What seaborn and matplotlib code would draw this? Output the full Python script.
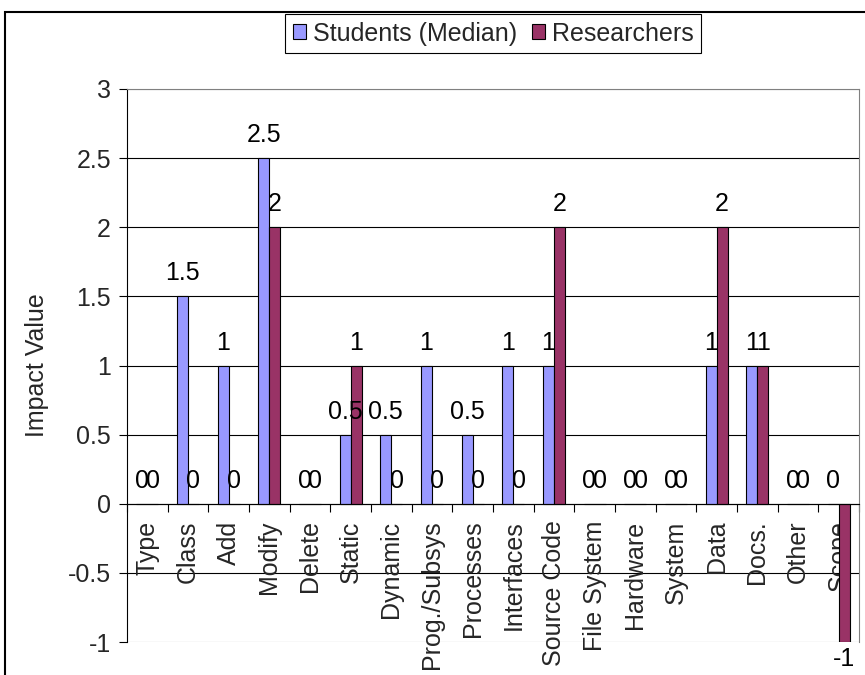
import numpy as np
import pandas as pd
import matplotlib
matplotlib.use("Agg")
import matplotlib.pyplot as plt
import seaborn as sns
from matplotlib.patches import Patch, Rectangle

categories = ["Type", "Class", "Add", "Modify", "Delete", "Static", "Dynamic",
              "Prog./Subsys", "Processes", "Interfaces", "Source Code",
              "File System", "Hardware", "System", "Data", "Docs.", "Other", "Scope"]
students = [0, 1.5, 1, 2.5, 0, 0.5, 0.5, 1, 0.5, 1, 1, 0, 0, 0, 1, 1, 0, 0]
researchers = [0, 0, 0, 2, 0, 1, 0, 0, 0, 0, 2, 0, 0, 0, 2, 1, 0, -1]
series_names = ["Students (Median)", "Researchers"]
series_colors = ["#9999FF", "#993366"]
y_ticks = [-1, -0.5, 0, 0.5, 1, 1.5, 2, 2.5, 3]
y_tick_labels = ["-1", "-0.5", "0", "0.5", "1", "1.5", "2", "2.5", "3"]

df = pd.DataFrame({
    "Category": categories * 2,
    "Series": [series_names[0]] * len(categories) + [series_names[1]] * len(categories),
    "Impact": students + researchers,
})

sns.set_theme(style="white")
plt.rcParams["font.family"] = ["Liberation Sans", "DejaVu Sans"]
plt.rcParams["axes.unicode_minus"] = False
FS = 18

fig = plt.figure(figsize=(8.65, 6.75), dpi=100)
ax = fig.add_axes([127 / 865, 1 - 642 / 675, 732 / 865, 553 / 675])

sns.barplot(data=df, x="Category", y="Impact", hue="Series", order=categories,
            hue_order=series_names, palette=series_colors, width=0.54,
            edgecolor="black", linewidth=0.8, saturation=1, errorbar=None,
            legend=False, ax=ax, zorder=1)

# horizontal gridlines under the bars; plot-area border in grey
for y in y_ticks:
    col = "#808080" if y in (y_ticks[0], y_ticks[-1]) else "black"
    ax.axhline(y, color=col, lw=0.8, zorder=0.5)

ax.set_xlim(-0.5, len(categories) - 0.5)
ax.set_ylim(-1, 3)

for side in ("top", "right"):
    ax.spines[side].set_color("#808080")
    ax.spines[side].set_linewidth(0.8)
ax.spines["left"].set_color("black")
ax.spines["left"].set_linewidth(0.8)
ax.spines["bottom"].set_position(("data", 0))
ax.spines["bottom"].set_color("black")
ax.spines["bottom"].set_linewidth(0.8)

ax.set_yticks(y_ticks)
ax.set_yticklabels(y_tick_labels, fontsize=FS)
ax.tick_params(axis="y", direction="out", length=5.5, width=0.8, color="black",
               pad=6, left=True)

ax.set_xticks(range(len(categories)))
ax.set_xticklabels(categories, rotation=90, fontsize=FS, va="top", ha="center")
ax.tick_params(axis="x", which="major", length=0, pad=12, bottom=True)
ax.set_xticks(np.arange(-0.5, len(categories)), minor=True)
ax.tick_params(axis="x", which="minor", length=6, width=0.8, direction="out",
               color="black", bottom=True)

ax.set_xlabel("")
ax.set_ylabel("Impact Value", fontsize=FS)
ax.yaxis.set_label_coords(-0.106, 0.5)

# value labels on every bar
for container in ax.containers:
    for bar, v in zip(container.patches, container.datavalues):
        x = bar.get_x() + bar.get_width() / 2
        off = 11.5 if v >= 0 else -17
        ax.annotate(f"{v:g}", (x, v), xytext=(0, off), textcoords="offset points",
                    ha="center", va="baseline", fontsize=FS, color="black")

handles = [Patch(facecolor=c, edgecolor="black", linewidth=0.8) for c in series_colors]
leg = fig.legend(handles, series_names, loc="center", bbox_to_anchor=(0.570, 0.950),
                 ncol=2, fontsize=FS, frameon=True, fancybox=False, edgecolor="black",
                 framealpha=1, handlelength=0.55, handleheight=0.55, handletextpad=0.25,
                 columnspacing=0.6, borderpad=0.3, borderaxespad=0)
leg.get_frame().set_linewidth(0.8)

# outer chart frame
fig.add_artist(Rectangle((5 / 865, -0.05), 1.1, 1 - 12 / 675 + 0.05,
                         transform=fig.transFigure, fill=False,
                         edgecolor="black", lw=1.5))

fig.savefig("out.png", dpi=100)
